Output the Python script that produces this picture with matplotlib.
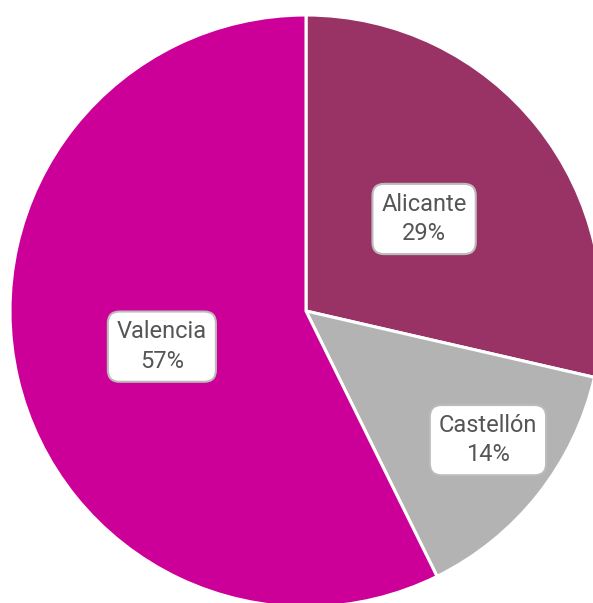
import numpy as np
import matplotlib.pyplot as plt

regions = ['Alicante', 'Castellón', 'Valencia']
shares = [28.6, 14.1, 57.3]
colors = ['#993366', '#b3b3b3', '#cc0099']

# where the labels sit inside each slice (fraction of radius, angle nudge in deg)
label_r = [0.51, 0.75, 0.50]
label_nudge = [0, 3.4, 0]

plt.rcParams['font.family'] = ['Roboto', 'DejaVu Sans']

fig = plt.figure(figsize=(5.93, 6.03), dpi=100)
ax = fig.add_axes([0, 0, 1, 1])

cx, cy, R = 306, 603 - 311, 296
wedges, _ = ax.pie(shares, colors=colors, startangle=90, counterclock=False,
                   center=(cx, cy), radius=R, frame=True,
                   wedgeprops=dict(edgecolor='white', linewidth=2.2))
ax.set_xlim(0, 593)
ax.set_ylim(0, 603)
ax.set_aspect('equal')
ax.axis('off')

total = sum(shares)
for w, name, val, rf, nd in zip(wedges, regions, shares, label_r, label_nudge):
    ang = np.deg2rad((w.theta1 + w.theta2) / 2 + nd)
    x = cx + rf * R * np.cos(ang)
    y = cy + rf * R * np.sin(ang) - 2
    ax.text(x, y, f'{name}\n{round(100 * val / total)}%', ha='center', va='center',
            fontsize=17, color='#555555', linespacing=1.35,
            bbox=dict(boxstyle='round,pad=0.38,rounding_size=0.5', fc='white',
                      ec='#bbbbbb', lw=1.5))

fig.savefig('out.png', dpi=100)
